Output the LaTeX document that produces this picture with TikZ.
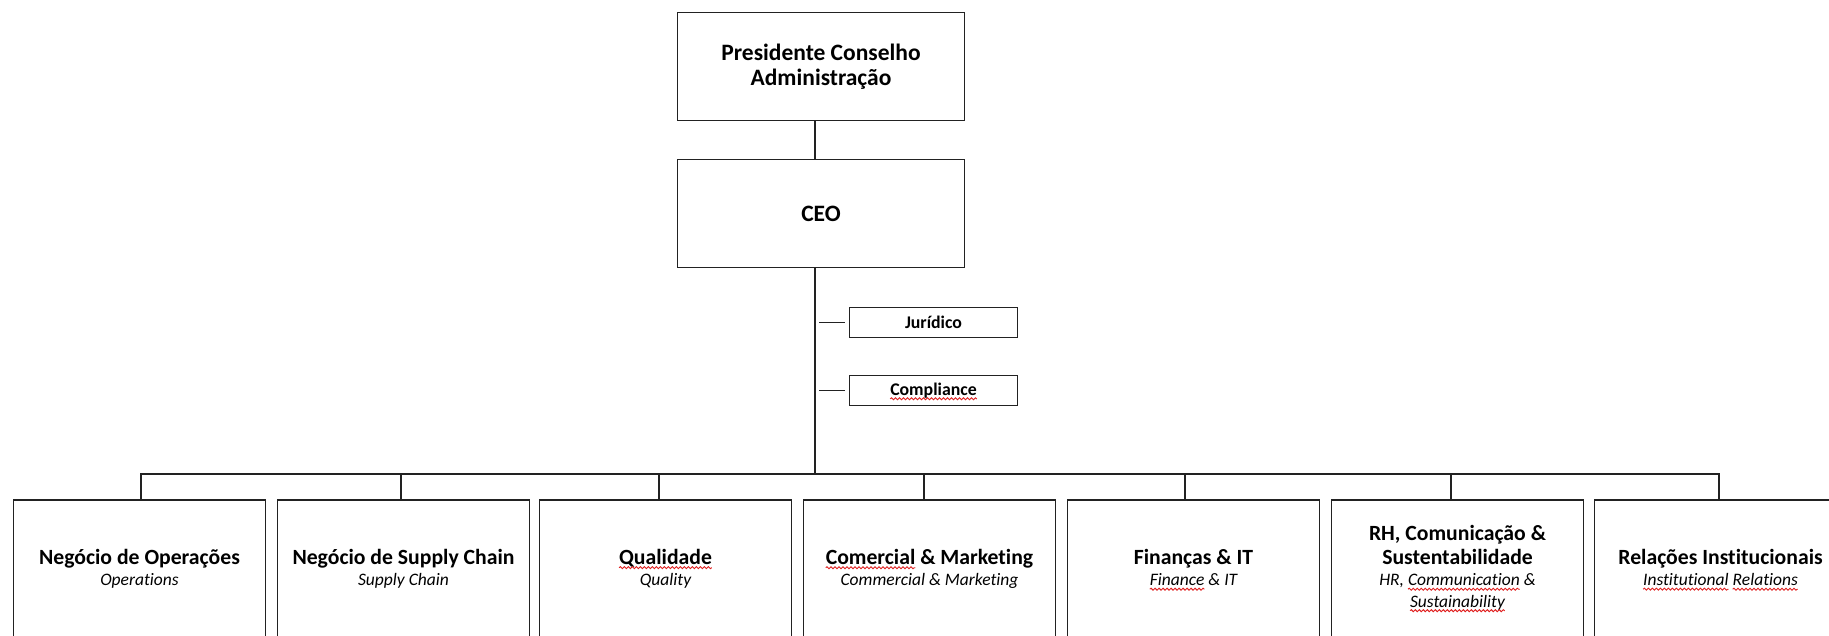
\documentclass[tikz,border=0pt]{standalone}
\usepackage{fontspec}
\setmainfont{Carlito}[Ligatures={NoCommon}]
\usetikzlibrary{decorations.pathmorphing}

\definecolor{linec}{HTML}{222222}
\definecolor{spellred}{HTML}{E02020}

% word with a red wavy underline
\newcommand\spell[1]{\tikz[baseline=(sw.base)]{%
  \node[inner sep=0pt,outer sep=0pt,draw=none,fill=none,minimum width=0pt,minimum height=0pt] (sw) {#1};%
  \draw[overlay,draw=spellred,line width=0.9pt,decorate,
        decoration={snake,amplitude=1pt,segment length=4pt}]
        ([yshift=-3.5pt]sw.base west) -- ([yshift=-3.5pt]sw.base east);}}

% English subtitle line
\newcommand\eng[1]{{\mdseries\itshape\fontsize{17.5}{21.5}\selectfont #1}}
% fixed height for the first line of a label
\newcommand\firstline{\rule{0pt}{18pt}}
% keep baselines at exactly \baselineskip
\newcommand\tightlines{\lineskiplimit-100pt\relax}

\begin{document}
\begin{tikzpicture}[x=1pt,y=-1pt,
  box/.style={draw=linec,line width=1.8pt,fill=white,inner sep=0pt},
  topbox/.style={box,minimum width=287pt,minimum height=108pt,align=center,
    font=\bfseries\fontsize{23.5}{24.5}\selectfont\tightlines},
  sidebox/.style={box,minimum width=168pt,minimum height=30pt,
    font=\bfseries\fontsize{17.8}{21}\selectfont},
  dept/.style={box,minimum width=252pt,minimum height=300pt},
  lbl/.style={align=center,inner sep=0pt,anchor=north,
    font=\bfseries\fontsize{21.7}{21.5}\selectfont\tightlines},
  wire/.style={draw=linec,line width=1.8pt}]
\useasboundingbox (0,0) rectangle (1829,636);
\clip (0,0) rectangle (1829,636);

% top of the chart
\node[topbox] (pres) at (821,66.5) {Presidente Conselho\\Administração};
\node[topbox] (ceo) at (821,213.5) {CEO};

% staff functions next to the trunk
\node[sidebox] (jur) at (933.5,322.5) {Jurídico};
\node[sidebox] (comp) at (933.5,390.5) {\spell{Compliance}};

% departments
\node[dept] (d1) at (139.5,650) {};
\node[dept] (d2) at (403.5,650) {};
\node[dept] (d3) at (665.5,650) {};
\node[dept] (d4) at (929.5,650) {};
\node[dept] (d5) at (1193.5,650) {};
\node[dept] (d6) at (1457.5,650) {};
\node[dept] (d7) at (1720.5,650) {};

\node[lbl] (l1) at (d1.north |- 0,546) {\firstline Negócio de Operações\\\eng{Operations}};
\node[lbl] (l2) at (d2.north |- 0,546) {\firstline Negócio de Supply Chain\\\eng{Supply Chain}};
\node[lbl] (l3) at (d3.north |- 0,546) {\firstline\spell{Qualidade}\\\eng{Quality}};
\node[lbl] (l4) at (d4.north |- 0,546) {\firstline\spell{Comercial} \& Marketing\\\eng{Commercial \& Marketing}};
\node[lbl] (l5) at (d5.north |- 0,546) {\firstline Finanças \& IT\\\eng{\spell{Finance} \& IT}};
\node[lbl] (l6) at (d6.north |- 0,522) {\firstline RH, Comunicação \&\\[2.5pt]Sustentabilidade\\\eng{HR, \spell{Communication} \&}\\\eng{\spell{Sustainability}}};
\node[lbl] (l7) at (d7.north |- 0,546) {\firstline Relações Institucionais\\\eng{\spell{Institutional} \spell{Relations}}};

% connector positions
\coordinate (tr) at (815,0);
\coordinate (c1) at (141,474);
\coordinate (c2) at (401,474);
\coordinate (c3) at (659,474);
\coordinate (c4) at (924,474);
\coordinate (c5) at (1185,474);
\coordinate (c6) at (1451,474);
\coordinate (c7) at (1719,474);

% trunk
\draw[wire] (pres.south -| tr) -- (ceo.north -| tr);
\draw[wire] (ceo.south -| tr) -- (tr |- c1);

% stubs to staff functions
\draw[wire] ([xshift=-4pt]jur.west) -- ([xshift=-30pt]jur.west);
\draw[wire] ([xshift=-4pt]comp.west) -- ([xshift=-30pt]comp.west);

% bus and drops
\draw[wire] (d1.north -| c1) -- (c1) -- (c7) -- (d7.north -| c7);
\draw[wire] (c2) -- (d2.north -| c2);
\draw[wire] (c3) -- (d3.north -| c3);
\draw[wire] (c4) -- (d4.north -| c4);
\draw[wire] (c5) -- (d5.north -| c5);
\draw[wire] (c6) -- (d6.north -| c6);
\end{tikzpicture}
\end{document}
